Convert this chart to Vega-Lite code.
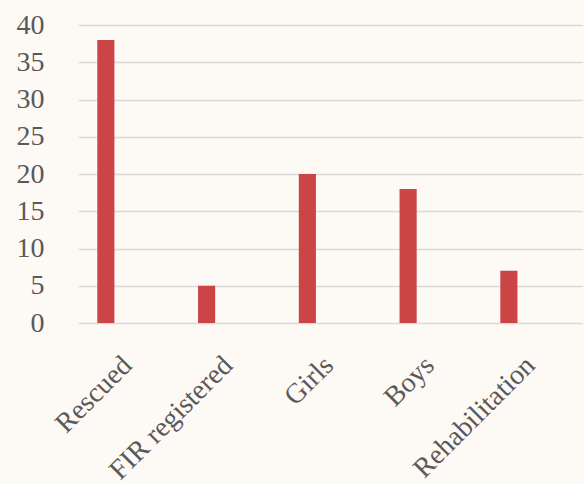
{
  "$schema": "https://vega.github.io/schema/vega-lite/v6.json",
  "width": 504,
  "height": 298,
  "autosize": {"type": "none"},
  "padding": {"left": 78, "top": 25, "right": 2, "bottom": 161},
  "background": "#fdfaf5",
  "config": {
    "view": {"stroke": null},
    "font": "Liberation Serif"
  },
  "data": {
    "values": [
      {"category": "Rescued", "value": 38},
      {"category": "FIR registered", "value": 5},
      {"category": "Girls", "value": 20},
      {"category": "Boys", "value": 18},
      {"category": "Rehabilitation", "value": 7}
    ]
  },
  "mark": {"type": "bar", "color": "#cb4546"},
  "encoding": {
    "x": {
      "field": "category",
      "type": "nominal",
      "sort": null,
      "scale": {"paddingInner": 0.83, "paddingOuter": 0.416, "align": 0.23},
      "axis": {
        "title": null,
        "labelAngle": -45,
        "labelFont": "Liberation Serif",
        "labelFontSize": 28,
        "labelColor": "#595959",
        "labelPadding": 28,
        "labelOffset": 12,
        "ticks": false,
        "domain": false
      }
    },
    "y": {
      "field": "value",
      "type": "quantitative",
      "scale": {"domain": [0, 40]},
      "axis": {
        "title": null,
        "values": [0, 5, 10, 15, 20, 25, 30, 35, 40],
        "labelFont": "Liberation Serif",
        "labelFontSize": 28,
        "labelColor": "#595959",
        "labelPadding": 34,
        "ticks": false,
        "domain": false,
        "gridColor": "#d9d9d9",
        "gridWidth": 1.5
      }
    }
  }
}
